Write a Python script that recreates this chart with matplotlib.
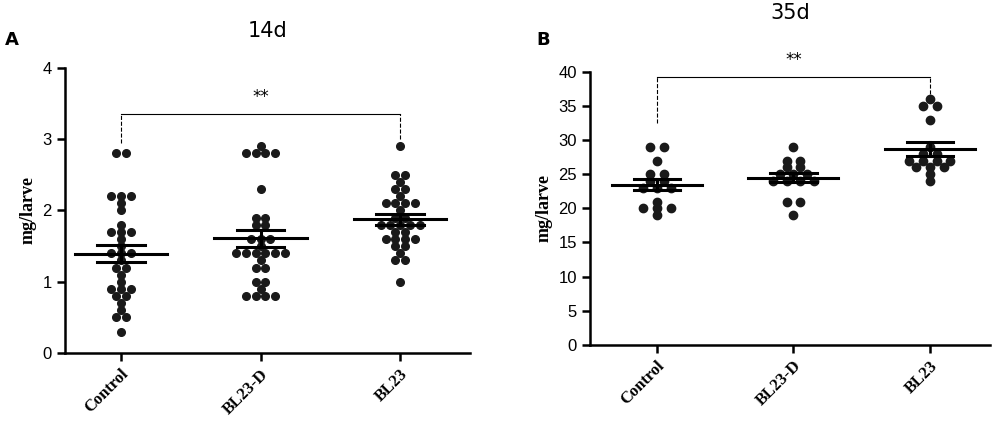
import numpy as np
import matplotlib
matplotlib.use("Agg")
import matplotlib.pyplot as plt

categories = ["Control", "BL23-D", "BL23"]
a_control = [2.8]*2+[2.2]*3+[2.1,2.0,1.8]+[1.7]*3+[1.6,1.5]+[1.4]*3+[1.3]+[1.2]*2+[1.1,1.0]+[0.9]*3+[0.8]*2+[0.7,0.6]+[0.5]*2+[0.3]
a_bl23d = [2.9]+[2.8]*4+[2.3]+[1.9]*2+[1.8]*2+[1.6]*3+[1.5]+[1.4]*6+[1.3]+[1.2]*2+[1.0]*2+[0.9]+[0.8]*4
a_bl23 = [2.9]+[2.5]*2+[2.4]+[2.3]*2+[2.2]+[2.1]*4+[2.0]+[1.9]*2+[1.8]*5+[1.7]*2+[1.6]*4+[1.5]*2+[1.4]+[1.3]*2+[1.0]
b_control = [29]*2+[27]+[25]*2+[24]*2+[23]*3+[21]+[20]*3+[19]
b_bl23d = [29]+[27]*2+[26]*2+[25]*3+[24]*4+[21]*2+[19]
b_bl23 = [36]+[35]*2+[33]+[29]+[28]*2+[27]*4+[26]*3+[25]+[24]
a_ticks = [0, 1, 2, 3, 4]
b_ticks = [0, 5, 10, 15, 20, 25, 30, 35, 40]

fig = plt.figure(figsize=(10, 4.3), dpi=100)
serif = {"family": "Liberation Serif", "weight": "bold"}

def panel(ax, groups, spacing, ms, ylim, yticks, bracket_y, dash_top, title, title_y):
    for i, vals in enumerate(groups):
        vals = np.array(vals, float)
        for v in np.unique(vals):
            k = int(np.sum(vals == v))
            xs = i + (np.arange(k) - (k-1)/2) * spacing
            ax.plot(xs, [v]*k, 'o', color='#1a1a1a', ms=ms, zorder=2)
        m = vals.mean(); se = vals.std(ddof=1)/np.sqrt(len(vals))
        ax.plot([i-0.33, i+0.33], [m, m], color='black', lw=2.2, zorder=3)
        for e in (m-se, m+se):
            ax.plot([i-0.17, i+0.17], [e, e], color='black', lw=2.2, zorder=3)
        ax.plot([i, i], [m-se, m+se], color='black', lw=2.2, zorder=3)
    ax.plot([0, 2], [bracket_y]*2, color='black', lw=0.8)
    ax.plot([0, 0], [dash_top[0], bracket_y], 'k--', lw=0.8)
    ax.plot([2, 2], [dash_top[1], bracket_y], 'k--', lw=0.8)
    ax.text(1, bracket_y + (ylim[1]-ylim[0])*0.03, "**", ha='center', va='bottom', fontsize=12)
    ax.set_ylim(*ylim)
    ax.set_yticks(yticks)
    ax.set_xticks(range(3))
    ax.set_xticklabels(categories, rotation=45, ha='right', rotation_mode='anchor', fontdict=dict(serif, size=12))
    for lab in ax.get_yticklabels():
        lab.set_fontsize(12); lab.set_fontfamily("Liberation Sans")
    ax.spines['top'].set_visible(False); ax.spines['right'].set_visible(False)
    ax.spines['left'].set_linewidth(1.8); ax.spines['bottom'].set_linewidth(1.8)
    ax.tick_params(width=1.8, length=6)
    ax.set_ylabel("mg/larve", fontdict=dict(serif, size=13))
    fig.text(ax.get_position().x0 + ax.get_position().width*0.5, title_y, title, ha='center', fontsize=15)

ax1 = fig.add_axes([0.065, 0.179, 0.405, 0.663])
ax1.set_xlim(-0.4, 2.5)
panel(ax1, [a_control, a_bl23d, a_bl23], 0.07, 5.5, (0, 4), a_ticks, 3.35, (2.95, 3.0), "14d", 0.915)
ax2 = fig.add_axes([0.59, 0.198, 0.40, 0.635])
ax2.set_xlim(-0.49, 2.44)
panel(ax2, [b_control, b_bl23d, b_bl23], 0.1, 6, (0, 40), b_ticks, 39.2, (32.5, 36.7), "35d", 0.955)
fig.text(0.005, 0.895, "A", fontsize=13, weight='bold')
fig.text(0.536, 0.895, "B", fontsize=13, weight='bold')
fig.savefig("out.png", dpi=100)
